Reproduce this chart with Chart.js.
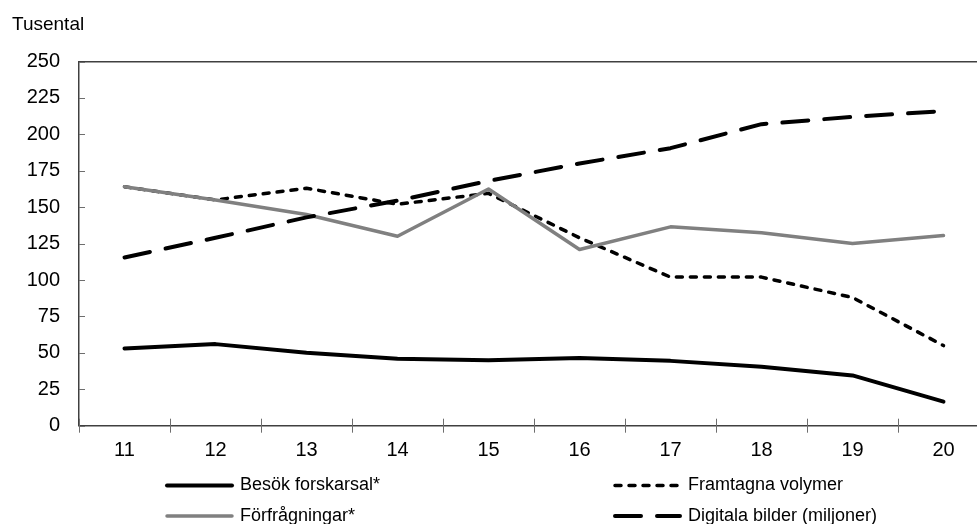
<!DOCTYPE html>
<html>
<head>
<meta charset="utf-8">
<script src="https://cdn.jsdelivr.net/npm/chart.js@4.4.1/dist/chart.umd.min.js"></script>
<style>
  html, body { margin: 0; padding: 0; background: #fff; }
  #wrap { width: 977px; height: 524px; overflow: hidden; position: relative; }
  canvas { display: block; }
</style>
</head>
<body>
<div id="wrap"><canvas id="chart" width="989" height="545"></canvas></div>
<script>
// categories (years)
const years = ['11', '12', '13', '14', '15', '16', '17', '18', '19', '20'];

// series, thousands
const besok = [53, 56, 50, 46, 45, 46.5, 44.5, 40.5, 34.5, 16.5];
const framtagna = [164, 155, 163, 152, 159.5, 129, 102, 102, 88, 55];
const forfragningar = [164, 155, 145, 130, 162.5, 121, 136.5, 132.5, 125, 130.5];
const digitala = [115.5, 129, 143, 154.5, 168, 180, 190.5, 207, 212, 216];

// y axis
const yMin = 0;
const yMax = 250;
const yStep = 25;

Chart.defaults.font.family = '"Liberation Sans", Arial, sans-serif';
Chart.defaults.color = '#000';

// small tick marks: y inward, x crossing the axis
const axisTicks = {
  id: 'axisTicks',
  afterDraw(chart) {
    const { ctx, scales: { x, y } } = chart;
    ctx.save();
    ctx.strokeStyle = '#6e6e6e';
    ctx.lineWidth = 1;
    ctx.beginPath();
    y.ticks.forEach((t, i) => {
      const py = Math.round(y.getPixelForTick(i)) + 0.5;
      ctx.moveTo(y.right, py);
      ctx.lineTo(y.right + 6, py);
    });
    const half = (x.getPixelForValue(1) - x.getPixelForValue(0)) / 2;
    for (let i = 0; i <= years.length; i++) {
      const px = Math.round(x.getPixelForValue(i) - half) + 0.5;
      ctx.moveTo(px, x.top - 7);
      ctx.lineTo(px, x.top + 7);
    }
    ctx.stroke();
    ctx.restore();
  }
};

// legend in two columns
const twoColLegend = {
  id: 'twoColLegend',
  afterDraw(chart) {
    const { ctx } = chart;
    const cols = [165, 613];
    const rows = [485.5, 516];
    ctx.save();
    ctx.font = '18px "Liberation Sans", Arial, sans-serif';
    ctx.textBaseline = 'middle';
    ctx.fillStyle = '#000';
    chart.data.datasets.forEach((ds, i) => {
      const lx = cols[i % 2];
      const ly = rows[Math.floor(i / 2)];
      ctx.beginPath();
      ctx.strokeStyle = ds.borderColor;
      ctx.lineWidth = ds.borderWidth;
      ctx.lineCap = ds.borderCapStyle || 'butt';
      ctx.setLineDash(ds.borderDash || []);
      ctx.moveTo(lx + 2, ly);
      ctx.lineTo(lx + 67, ly);
      ctx.stroke();
      ctx.setLineDash([]);
      ctx.fillText(ds.label, lx + 75, ly);
    });
    ctx.restore();
  }
};

new Chart(document.getElementById('chart'), {
  type: 'line',
  data: {
    labels: years,
    datasets: [
      {
        label: 'Besök forskarsal*',
        data: besok,
        borderColor: '#000',
        borderWidth: 4,
        borderCapStyle: 'round',
        order: 0
      },
      {
        label: 'Framtagna volymer',
        data: framtagna,
        borderColor: '#000',
        borderWidth: 3.5,
        borderDash: [6, 8],
        borderCapStyle: 'round',
        order: 3
      },
      {
        label: 'Förfrågningar*',
        data: forfragningar,
        borderColor: '#808080',
        borderWidth: 3.5,
        borderCapStyle: 'round',
        order: 2
      },
      {
        label: 'Digitala bilder (miljoner)',
        data: digitala,
        borderColor: '#000',
        borderWidth: 4,
        borderDash: [26, 16],
        borderCapStyle: 'round',
        order: 1
      }
    ]
  },
  options: {
    responsive: false,
    animation: false,
    devicePixelRatio: 1,
    layout: { padding: { left: 12, right: 0, top: 0, bottom: 59.3 } },
    elements: {
      point: { radius: 0 },
      line: { tension: 0, borderJoinStyle: 'round' }
    },
    plugins: {
      legend: { display: false },
      tooltip: { enabled: false },
      title: {
        display: true,
        text: 'Tusental',
        align: 'start',
        color: '#000',
        font: { size: 19, weight: 'normal' },
        padding: { top: 13, bottom: 25.7 }
      }
    },
    scales: {
      x: {
        offset: true,
        grid: { display: false, drawTicks: false },
        border: { display: true, color: '#404040', width: 1.5 },
        ticks: { font: { size: 20 }, padding: 13, maxRotation: 0 },
        afterFit(s) { s.height = 60; }
      },
      x2: {
        position: 'top',
        labels: years,
        offset: true,
        grid: { display: false, drawTicks: false },
        border: { display: true, color: '#404040', width: 1.5 },
        ticks: { display: false },
        afterFit(s) { s.height = 0; }
      },
      y: {
        min: yMin,
        max: yMax,
        grid: { display: false, drawTicks: false },
        border: { display: true, color: '#404040', width: 1.5 },
        ticks: { stepSize: yStep, font: { size: 20 }, padding: 19 },
        afterFit(s) { s.width = 67; }
      }
    }
  },
  plugins: [axisTicks, twoColLegend]
});
</script>
</body>
</html>
